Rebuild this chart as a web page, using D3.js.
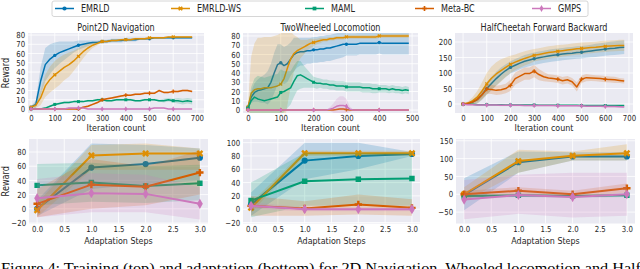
<!DOCTYPE html>
<html>
<head>
<meta charset="utf-8">
<script src="https://d3js.org/d3.v7.min.js"></script>
<style>
    body { margin: 0; background: #fff; }
    #chart { display: block; font-family: "DejaVu Sans", sans-serif; }
    .tick text { fill: #262626; }
</style>
</head>
<body>
<svg id="chart" width="640" height="269"></svg>
<script>
    // ---- data ----
    var methods = ["EMRLD", "EMRLD-WS", "MAML", "Meta-BC", "GMPS"];
    var colors = ["#0173b2", "#de8f05", "#029e73", "#d55e00", "#cc78bc"];

    // Point2D Navigation (training)
    var navIter = [0,20,40,60,80,100,120,140,160,180,200,220,240,260,280,300,320,340,360,380,400,420,440,460,480,500,520,540,560,580,600,620,640,660,680];
    var navEmrld = [2,5,30,48,54,58,61,63,65,67,69,70,71,72,72,73,73,74,74,74,75,75,75,76,76,76,77,77,77,77,77,77,77,77,77];
    var navEmrldSd = [1,4,15,18,16,14,12,10,8,6,5,4,3,2,2,2,2,2,2,2,2,2,2,1,1,1,1,1,1,1,1,1,1,1,1];
    var navWs = [2,4,12,25,32,37,41,45,48,52,57,62,66,69,71,73,73,74,74,75,75,75,76,76,76,77,77,77,77,78,78,78,78,78,78];
    var navWsSd = [1,3,8,12,14,15,15,14,13,11,9,7,5,3,2,1,1,1,1,1,1,1,1,1,1,1,1,1,1,1,1,1,1,1,1];
    var navMaml = [0,0,0,1,3,5,6,7,7,8,8,8,9,9,10,10,9,9,10,10,10,10,9,9,10,10,10,9,9,10,9,9,8,9,8];
    var navMamlSd = [0,0,1,1,1,1,1,1,1,1,1,1,1,1,1,1,1,1,1,1,1,1,1,1,1,1,1,1,2,2,2,3,3,3,3];
    var navMeta = [0,0,0,0,0,0,0,0,0,0,0,2,3,5,7,10,11,12,13,14,15,15,16,16,17,17,17,20,18,18,19,19,20,20,19];
    var navMetaSd = [0,0,0,0,0,0,0,0,0,0,1,1,1,1,1,1,1,1,1,1,1,1,1,1,1,1,1,1,1,1,1,1,1,1,1];
    var navGmps = [0,0,0,0,0,0,0,0,1,1,1,1,0,0,0,0,0,0,0,0,0,0,0,0,0,0,1,1,1,0,0,0,0,0,0];
    var navGmpsSd = [0.5,0.5,0.5,0.5,0.5,0.5,0.5,0.5,0.5,0.5,0.5,0.5,0.5,0.5,0.5,0.5,0.5,0.5,0.5,0.5,0.5,0.5,0.5,0.5,0.5,0.5,0.5,0.5,0.5,0.5,0.5,0.5,0.5,0.5,0.5];

    // TwoWheeled Locomotion (training)
    var wheelIter = [0,10,20,30,40,50,60,70,80,90,100,110,120,130,140,150,160,170,180,190,200,210,220,230,240,250,260,270,280,290,300,310,320,330,340,350,360,370,380,390,400,410,420,430,440,450,460,470,480,490];
    var wheelEmrld = [3,14,19,21,22,23,24,30,40,49,51,48,50,55,60,62,63,63,64,64,65,65,66,66,67,67,68,69,70,71,71,71,71,71,72,72,72,72,72,72,73,72,72,72,72,72,72,72,72,72];
    var wheelEmrldSd = [1,6,10,12,14,15,18,20,22,22,20,20,20,18,18,16,15,15,14,14,14,14,14,14,14,14,14,14,14,14,12,12,12,12,12,12,12,12,12,12,12,12,12,12,12,12,12,12,12,12];
    var wheelWs = [3,18,22,23,23,24,24,24,25,26,28,34,45,55,61,64,66,68,70,72,73,74,75,76,76,77,77,78,78,78,79,79,79,79,79,79,79,79,79,79,80,80,80,80,80,80,80,80,80,80];
    var wheelWsSd = [2,40,50,55,55,55,55,55,55,55,55,50,40,30,20,15,10,8,6,5,4,3,3,2,2,2,2,2,2,2,2,2,2,2,2,2,2,2,2,2,2,2,2,2,2,2,2,2,2,2];
    var wheelMaml = [2,10,14,12,11,10,11,12,13,14,19,20,22,24,31,37,38,36,34,32,30,29,29,28,28,27,27,26,26,26,25,25,25,25,25,24,24,24,23,23,23,23,23,22,23,22,22,21,22,21];
    var wheelMamlSd = [2,15,20,25,25,25,25,25,25,25,25,22,20,18,17,16,15,12,10,8,6,6,5,5,5,5,5,5,5,5,5,5,5,5,5,5,5,5,5,5,4,4,4,4,4,4,4,4,4,4];
    var wheelMeta = [0,0,0,0,0,0,0,0,0,0,0,0,0,0,0,0,0,0,0,0,0,0,0,0,0,0,0,0.5,1,1,0.5,0,0,0,0,0,0,0,0,0,0,0,0,0,0,0,0,0,0,0];
    var wheelMetaSd = [0.5,0.5,0.5,0.5,0.5,0.5,0.5,0.5,0.5,0.5,0.5,0.5,0.5,0.5,0.5,0.5,0.5,0.5,0.5,0.5,0.5,0.5,0.5,0.5,0.5,0.5,0.5,1,1.5,1.5,1,0.5,0.5,0.5,0.5,0.5,0.5,0.5,0.5,0.5,0.5,0.5,0.5,0.5,0.5,0.5,0.5,0.5,0.5,0.5];
    var wheelGmps = [0,0,0,0,0,0,0,0,0,0,0,0,0,0,0,0,0,0,0,0,0,0,0,0,0,1,2,4,5,5,4,1,0,0,0,0,0,0,0,0,0,0,0,0,0,0,0,0,0,0];
    var wheelGmpsSd = [0.5,0.5,0.5,0.5,0.5,0.5,0.5,0.5,0.5,0.5,0.5,0.5,0.5,0.5,0.5,0.5,0.5,0.5,0.5,0.5,0.5,0.5,0.5,0.5,0.5,2,5,8,10,10,8,3,0.5,0.5,0.5,0.5,0.5,0.5,0.5,0.5,0.5,0.5,0.5,0.5,0.5,0.5,0.5,0.5,0.5,0.5];

    // HalfCheetah Forward Backward (training)
    var cheetahIter = [0,20,40,60,80,100,120,140,160,180,200,220,240,260,280,300,320,340,360,380,400,420,440,460,480,500,520,540,560,580,600,620,640,660,680];
    var cheetahEmrld = [0,2,6,14,30,50,66,82,96,108,118,125,132,138,142,146,149,152,155,157,159,161,163,164,166,167,169,171,173,175,177,179,180,182,183];
    var cheetahEmrldSd = [2,4,8,12,16,20,22,22,22,20,20,20,20,20,20,20,20,20,20,20,20,20,20,20,20,20,20,20,21,21,21,22,22,22,22];
    var cheetahWs = [0,3,10,22,42,65,83,97,108,118,128,135,141,147,152,157,160,163,166,168,170,172,174,176,178,179,181,182,183,185,186,187,188,189,189];
    var cheetahWsSd = [2,5,12,20,28,35,38,38,36,32,28,25,24,23,22,20,20,20,20,20,20,19,19,19,19,19,18,18,18,18,18,18,18,18,18];
    var cheetahMaml = [-1,-1,-1,-2,-2,-2,-2,-2,-2,-3,-3,-3,-3,-3,-3,-3,-4,-4,-4,-4,-4,-4,-4,-4,-4,-5,-5,-5,-5,-5,-5,-5,-5,-5,-5];
    var cheetahMamlSd = [2,2,2,2,2,2,2,2,2,2,2,2,2,2,2,2,2,2,2,2,2,2,2,2,2,2,2,2,2,2,2,2,2,2,2];
    var cheetahMeta = [0,2,6,15,30,48,47,44,46,50,60,82,90,98,98,106,95,88,84,82,80,75,78,72,55,80,85,84,83,82,80,79,78,76,74];
    var cheetahMetaSd = [1,2,5,8,12,15,15,15,15,15,18,20,20,20,20,20,18,15,12,12,12,12,12,12,15,12,12,10,10,10,10,10,10,8,8];
    var cheetahGmps = [-1,-2,-2,-3,-3,-3,-3,-3,-4,-4,-4,-4,-4,-5,-5,-5,-5,-5,-5,-5,-6,-6,-6,-6,-6,-6,-7,-7,-7,-7,-8,-8,-8,-9,-10];
    var cheetahGmpsSd = [3,3,3,3,3,3,3,3,3,3,3,3,3,3,3,3,3,3,3,3,3,3,3,3,3,3,3,3,3,3,3,3,3,3,3];

    // adaptation (bottom row), steps 0..3
    var steps = [0, 1, 2, 3];
    var navAdEmrld = [0, 58, 63, 72], navAdEmrldLo = [-10, 28, 35, 40], navAdEmrldHi = [12, 92, 90, 85];
    var navAdWs = [-2, 75, 78, 78], navAdWsLo = [-12, 55, 55, 55], navAdWsHi = [8, 90, 92, 85];
    var navAdMaml = [33, 37, 32, 36], navAdMamlLo = [5, 10, 8, 12], navAdMamlHi = [63, 65, 60, 62];
    var navAdMeta = [7, 34, 31, 51], navAdMetaLo = [-12, 0, 5, 20], navAdMetaHi = [28, 70, 60, 82];
    var navAdGmps = [15, 22, 21, 7], navAdGmpsLo = [-12, -5, -5, -15], navAdGmpsHi = [42, 50, 48, 30];

    var wheelAdEmrld = [7, 73, 80, 83], wheelAdEmrldLo = [-10, 45, 60, 80], wheelAdEmrldHi = [25, 100, 100, 86];
    var wheelAdWs = [2, 84, 84, 84], wheelAdWsLo = [-5, 80, 80, 80], wheelAdWsHi = [10, 88, 88, 88];
    var wheelAdMaml = [13, 42, 45, 46], wheelAdMamlLo = [-12, 5, 5, 5], wheelAdMamlHi = [40, 85, 85, 85];
    var wheelAdMeta = [5, 1, 7, 2], wheelAdMetaLo = [-10, -10, -8, -10], wheelAdMetaHi = [20, 12, 22, 15];
    var wheelAdGmps = [5, 0, 0, 0], wheelAdGmpsLo = [0, -3, -3, -3], wheelAdGmpsHi = [10, 3, 3, 3];

    var cheetahAdEmrld = [-2, 90, 106, 106], cheetahAdEmrldLo = [-45, 60, 95, 95], cheetahAdEmrldHi = [45, 120, 118, 118];
    var cheetahAdWs = [0, 93, 108, 115], cheetahAdWsLo = [-20, 60, 95, 95], cheetahAdWsHi = [20, 125, 120, 140];
    var cheetahAdMaml = [-5, -3, -5, -3], cheetahAdMamlLo = [-10, -8, -10, -8], cheetahAdMamlHi = [0, 2, 0, 2];
    var cheetahAdMeta = [0, 10, 0, 17], cheetahAdMetaLo = [-10, 0, -10, 5], cheetahAdMetaHi = [10, 20, 10, 30];
    var cheetahAdGmps = [-15, -2, -8, 0], cheetahAdGmpsLo = [-70, -55, -65, -60], cheetahAdGmpsHi = [40, 55, 60, 60];

    // tick labels
    var iterTicks700 = [0, 100, 200, 300, 400, 500, 600, 700];
    var iterTicks500 = [0, 100, 200, 300, 400, 500];
    var stepTicks = [0, 0.5, 1, 1.5, 2, 2.5, 3];
    var rewardTicks80 = [0, 10, 20, 30, 40, 50, 60, 70, 80];
    var rewardTicks200 = [0, 50, 100, 150, 200];
    var adNavTicks = [-20, 0, 20, 40, 60, 80];
    var adWheelTicks = [-20, 0, 20, 40, 60, 80, 100];
    var adCheetahTicks = [-50, 0, 50, 100, 150];

    var caption = "Figure 4: Training (top) and adaptation (bottom) for 2D Navigation, Wheeled locomotion and Half";

    // ---- build series ----
    function sdSeries(xs, means, sds) {
        return xs.map(function(x, i) { return { x: x, y: means[i], lo: means[i] - sds[i], hi: means[i] + sds[i] }; });
    }
    function bandSeries(xs, means, los, his) {
        return xs.map(function(x, i) { return { x: x, y: means[i], lo: los[i], hi: his[i] }; });
    }

    var panels = [
        { title: "Point2D Navigation", xlabel: "Iteration count", ylabel: "Reward", top: true,
          l: 28, r: 204, t: 33, b: 113, xd: [-13, 730], yd: [-4.3, 82.2], xt: iterTicks700, yt: rewardTicks80, xf: d3.format("d"),
          series: [sdSeries(navIter, navEmrld, navEmrldSd), sdSeries(navIter, navWs, navWsSd), sdSeries(navIter, navMaml, navMamlSd),
                   sdSeries(navIter, navMeta, navMetaSd), sdSeries(navIter, navGmps, navGmpsSd)] },
        { title: "TwoWheeled Locomotion", xlabel: "Iteration count", top: true,
          l: 243, r: 418, t: 33, b: 113, xd: [-15, 518], yd: [-3.2, 83.2], xt: iterTicks500, yt: rewardTicks80, xf: d3.format("d"),
          series: [sdSeries(wheelIter, wheelEmrld, wheelEmrldSd), sdSeries(wheelIter, wheelWs, wheelWsSd), sdSeries(wheelIter, wheelMaml, wheelMamlSd),
                   sdSeries(wheelIter, wheelMeta, wheelMetaSd), sdSeries(wheelIter, wheelGmps, wheelGmpsSd)] },
        { title: "HalfCheetah Forward Backward", xlabel: "Iteration count", top: true,
          l: 455, r: 633, t: 33, b: 113, xd: [-34, 717], yd: [-29, 229], xt: iterTicks700, yt: rewardTicks200, xf: d3.format("d"),
          series: [sdSeries(cheetahIter, cheetahEmrld, cheetahEmrldSd), sdSeries(cheetahIter, cheetahWs, cheetahWsSd), sdSeries(cheetahIter, cheetahMaml, cheetahMamlSd),
                   sdSeries(cheetahIter, cheetahMeta, cheetahMetaSd), sdSeries(cheetahIter, cheetahGmps, cheetahGmpsSd)] },
        { xlabel: "Adaptation Steps", ylabel: "Reward", top: false,
          l: 29, r: 208, t: 139, b: 223.5, xd: [-0.15, 3.15], yd: [-20.7, 98.3], xt: stepTicks, yt: adNavTicks, xf: d3.format(".1f"),
          series: [bandSeries(steps, navAdEmrld, navAdEmrldLo, navAdEmrldHi), bandSeries(steps, navAdWs, navAdWsLo, navAdWsHi),
                   bandSeries(steps, navAdMaml, navAdMamlLo, navAdMamlHi), bandSeries(steps, navAdMeta, navAdMetaLo, navAdMetaHi),
                   bandSeries(steps, navAdGmps, navAdGmpsLo, navAdGmpsHi)] },
        { xlabel: "Adaptation Steps", top: false,
          l: 243, r: 420, t: 139, b: 223.5, xd: [-0.15, 3.15], yd: [-21.5, 105.5], xt: stepTicks, yt: adWheelTicks, xf: d3.format(".1f"),
          series: [bandSeries(steps, wheelAdEmrld, wheelAdEmrldLo, wheelAdEmrldHi), bandSeries(steps, wheelAdWs, wheelAdWsLo, wheelAdWsHi),
                   bandSeries(steps, wheelAdMaml, wheelAdMamlLo, wheelAdMamlHi), bandSeries(steps, wheelAdMeta, wheelAdMetaLo, wheelAdMetaHi),
                   bandSeries(steps, wheelAdGmps, wheelAdGmpsLo, wheelAdGmpsHi)] },
        { xlabel: "Adaptation Steps", top: false,
          l: 456, r: 635, t: 139, b: 223.5, xd: [-0.15, 3.15], yd: [-82, 155], xt: stepTicks, yt: adCheetahTicks, xf: d3.format(".1f"),
          series: [bandSeries(steps, cheetahAdEmrld, cheetahAdEmrldLo, cheetahAdEmrldHi), bandSeries(steps, cheetahAdWs, cheetahAdWsLo, cheetahAdWsHi),
                   bandSeries(steps, cheetahAdMaml, cheetahAdMamlLo, cheetahAdMamlHi), bandSeries(steps, cheetahAdMeta, cheetahAdMetaLo, cheetahAdMetaHi),
                   bandSeries(steps, cheetahAdGmps, cheetahAdGmpsLo, cheetahAdGmpsHi)] }
    ];

    var svg = d3.select("#chart");
    var SX = 0.84; // the figure text looks horizontally squeezed

    function symbolFor(i, size) {
        var types = [d3.symbolCircle, d3.symbolCross, d3.symbolSquare, d3.symbolCross, d3.symbolDiamond];
        return d3.symbol().type(types[i]).size(size)();
    }
    function symRot(i) { return i === 1 ? 45 : 0; }

    function label(g, x, y, s, size, anchor, rot) {
        return g.append("text")
            .attr("transform", "translate(" + x + "," + y + ")" + (rot ? " rotate(" + rot + ")" : "") + " scale(" + SX + ",1)")
            .attr("text-anchor", anchor || "middle")
            .style("font-size", size + "px")
            .style("fill", "#262626")
            .text(s);
    }

    panels.forEach(function(p, pi) {
        var x = d3.scaleLinear().domain(p.xd).range([p.l, p.r]);
        var y = d3.scaleLinear().domain(p.yd).range([p.b, p.t]);
        var g = svg.append("g");

        g.append("rect").attr("x", p.l).attr("y", p.t).attr("width", p.r - p.l).attr("height", p.b - p.t).attr("fill", "#eaeaf2");

        // grid
        g.selectAll(".gx").data(p.xt).enter().append("line")
            .attr("x1", function(d) { return x(d); }).attr("x2", function(d) { return x(d); })
            .attr("y1", p.t).attr("y2", p.b).attr("stroke", "#fff").attr("stroke-width", 0.8);
        g.selectAll(".gy").data(p.yt).enter().append("line")
            .attr("y1", function(d) { return y(d); }).attr("y2", function(d) { return y(d); })
            .attr("x1", p.l).attr("x2", p.r).attr("stroke", "#fff").attr("stroke-width", 0.8);

        // axes
        var ax = g.append("g").attr("transform", "translate(0," + p.b + ")")
            .call(d3.axisBottom(x).tickValues(p.xt).tickFormat(p.xf).tickSize(0).tickPadding(2.5));
        var ay = g.append("g").attr("transform", "translate(" + p.l + ",0)")
            .call(d3.axisLeft(y).tickValues(p.yt).tickSize(0).tickPadding(3.5));
        [ax, ay].forEach(function(a) {
            a.select(".domain").remove();
            a.selectAll("text").style("font-size", "8.3px").style("font-family", "DejaVu Sans, sans-serif")
                .attr("transform", "scale(" + SX + ",1)");
        });

        // clip
        var cid = "clip" + pi;
        svg.append("clipPath").attr("id", cid).append("rect")
            .attr("x", p.l).attr("y", p.t).attr("width", p.r - p.l).attr("height", p.b - p.t);
        var plot = g.append("g").attr("clip-path", "url(#" + cid + ")");

        var area = d3.area().x(function(d) { return x(d.x); }).y0(function(d) { return y(d.lo); }).y1(function(d) { return y(d.hi); });
        var line = d3.line().x(function(d) { return x(d.x); }).y(function(d) { return y(d.y); });

        p.series.forEach(function(s, si) {
            plot.append("path").datum(s).attr("d", area).attr("fill", colors[si]).attr("fill-opacity", 0.2);
            plot.append("path").datum(s).attr("d", line).attr("fill", "none").attr("stroke", colors[si])
                .attr("stroke-width", p.top ? 1.5 : 2).attr("stroke-linejoin", "round");
            var pts = p.top ? s.filter(function(d) { return d.x % 100 === 0; }) : s;
            plot.selectAll(null).data(pts).enter().append("path")
                .attr("d", symbolFor(si, p.top ? 9 : 30))
                .attr("transform", function(d) { return "translate(" + x(d.x) + "," + y(d.y) + ") rotate(" + symRot(si) + ")"; })
                .attr("fill", colors[si]);
        });

        var cx = (p.l + p.r) / 2;
        if (p.title) label(g, cx, 30.5, p.title, 9.6, "middle");
        label(g, cx, p.top ? 130.8 : 244, p.xlabel, 9.5, "middle");
        if (p.ylabel) label(g, 9, (p.t + p.b) / 2, p.ylabel, 9.7, "middle", -90);
    });

    // legend
    var legendX = [55, 171, 305, 415, 532];
    var lg = svg.append("g");
    lg.append("rect").attr("x", 52).attr("y", 1).attr("width", 536).attr("height", 15.5).attr("rx", 2)
        .attr("fill", "#fff").attr("stroke", "#cccccc").attr("stroke-width", 0.8);
    methods.forEach(function(m, i) {
        var lx = legendX[i];
        lg.append("line").attr("x1", lx).attr("x2", lx + 19).attr("y1", 8.5).attr("y2", 8.5)
            .attr("stroke", colors[i]).attr("stroke-width", 1.5);
        lg.append("path").attr("d", symbolFor(i, 14))
            .attr("transform", "translate(" + (lx + 9.5) + ",8.5) rotate(" + symRot(i) + ")").attr("fill", colors[i]);
        label(lg, lx + 26, 11.8, m, 9.6, "start");
    });

    // caption (cut at the bottom edge, as in the source figure)
    svg.append("text").attr("x", 1).attr("y", 273)
        .attr("textLength", 640).attr("lengthAdjust", "spacingAndGlyphs")
        .style("font-family", "Liberation Serif, Times New Roman, serif").style("font-size", "15px").style("fill", "#000")
        .text(caption);
</script>
</body>
</html>
